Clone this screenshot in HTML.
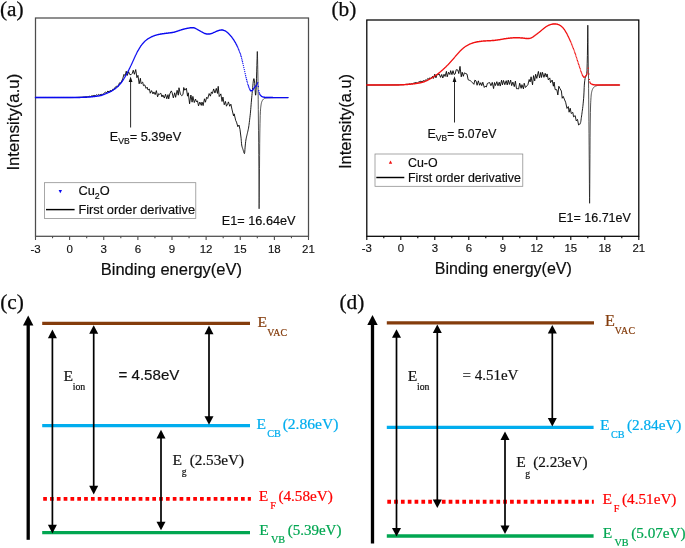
<!DOCTYPE html>
<html lang="en"><head><meta charset="utf-8"><title>UPS spectra and band diagrams</title>
<style>html,body{margin:0;padding:0;background:#fff}body{width:685px;height:548px;overflow:hidden}svg{display:block;will-change:transform;opacity:.999}text{white-space:pre;paint-order:stroke}</style></head><body>
<svg width="685" height="548" viewBox="0 0 685 548">
<rect width="685" height="548" fill="#fff"/>
<g font-family='"Liberation Serif", "Times New Roman", Times, serif' font-size="21.3" fill="#0a0a0a" stroke="#0a0a0a" stroke-width="0.25">
<text x="0" y="15.6">(a)</text>
<text x="331.4" y="15.9">(b)</text>
<text x="0.2" y="309.3">(c)</text>
<text x="339.4" y="309.3">(d)</text>
</g>
<g id="panel-a">
<rect x="35.5" y="18" width="273" height="218.3" fill="none" stroke="#4d4d4d" stroke-width="1.25"/>
<path d="M35.5 236.3v3.6M52.56 236.3v2M69.62 236.3v3.6M86.69 236.3v2M103.75 236.3v3.6M120.81 236.3v2M137.88 236.3v3.6M154.94 236.3v2M172 236.3v3.6M189.06 236.3v2M206.12 236.3v3.6M223.19 236.3v2M240.25 236.3v3.6M257.31 236.3v2M274.38 236.3v3.6M291.44 236.3v2M308.5 236.3v3.6" stroke="#4d4d4d" stroke-width="1.1" fill="none"/>
<g font-family='"Liberation Sans", Arial, Helvetica, sans-serif' font-size="11.5" fill="#111" stroke="#111" stroke-width="0.15" text-anchor="middle">
<text x="35.5" y="252.8">-3</text>
<text x="69.62" y="252.8">0</text>
<text x="103.75" y="252.8">3</text>
<text x="137.88" y="252.8">6</text>
<text x="172" y="252.8">9</text>
<text x="206.12" y="252.8">12</text>
<text x="240.25" y="252.8">15</text>
<text x="274.38" y="252.8">18</text>
<text x="308.5" y="252.8">21</text>
</g>
<polyline points="35.5,97.6 35.7,97.6 35.9,97.6 36.1,97.6 36.3,97.6 36.5,97.6 36.7,97.6 36.81,97.6 36.9,97.6 37.1,97.6 37.3,97.6 37.5,97.6 37.7,97.6 37.76,97.6 37.9,97.6 38.1,97.6 38.3,97.6 38.5,97.6 38.7,97.6 38.9,97.6 39.08,97.6 39.1,97.6 39.3,97.6 39.5,97.6 39.7,97.6 39.9,97.6 40.1,97.6 40.3,97.6 40.37,97.6 40.5,97.6 40.7,97.6 40.9,97.6 41.1,97.6 41.27,97.6 41.3,97.6 41.5,97.6 41.7,97.6 41.9,97.6 42.1,97.6 42.3,97.6 42.4,97.6 42.5,97.6 42.7,97.6 42.9,97.6 43.1,97.6 43.3,97.6 43.3,97.6 43.5,97.6 43.7,97.6 43.9,97.6 44.1,97.6 44.3,97.6 44.5,97.6 44.57,97.6 44.7,97.6 44.9,97.6 45.1,97.6 45.3,97.6 45.5,97.6 45.7,97.6 45.85,97.6 45.9,97.6 46.1,97.6 46.3,97.6 46.5,97.6 46.7,97.6 46.9,97.6 47.1,97.6 47.1,97.6 47.3,97.6 47.5,97.6 47.7,97.6 47.9,97.6 48.1,97.6 48.3,97.6 48.32,97.6 48.5,97.6 48.7,97.6 48.9,97.6 49.1,97.6 49.23,97.6 49.3,97.6 49.5,97.6 49.7,97.6 49.9,97.6 50.1,97.6 50.2,97.6 50.3,97.6 50.5,97.6 50.7,97.6 50.9,97.6 51.1,97.6 51.3,97.6 51.48,97.6 51.5,97.6 51.7,97.6 51.9,97.6 52.1,97.6 52.3,97.6 52.5,97.6 52.7,97.6 52.9,97.6 52.99,97.6 53.1,97.6 53.3,97.6 53.5,97.6 53.7,97.6 53.74,97.6 53.9,97.6 54.1,97.6 54.3,97.6 54.5,97.6 54.7,97.6 54.9,97.6 55.02,97.6 55.1,97.6 55.3,97.6 55.5,97.6 55.7,97.6 55.9,97.6 56.1,97.6 56.3,97.6 56.45,97.6 56.5,97.6 56.7,97.6 56.9,97.6 57.08,97.6 57.1,97.6 57.3,97.6 57.5,97.6 57.7,97.6 57.9,97.6 58.1,97.6 58.3,97.6 58.5,97.6 58.56,97.6 58.7,97.6 58.9,97.6 59.1,97.6 59.3,97.6 59.5,97.6 59.7,97.6 59.9,97.6 59.91,97.6 60.1,97.6 60.3,97.6 60.5,97.6 60.64,97.6 60.7,97.6 60.9,97.6 61.1,97.6 61.3,97.6 61.5,97.6 61.7,97.6 61.9,97.6 61.98,97.6 62.1,97.6 62.3,97.6 62.5,97.6 62.7,97.6 62.9,97.6 63.1,97.6 63.3,97.6 63.34,97.6 63.5,97.6 63.7,97.6 63.9,97.6 64.04,97.6 64.1,97.6 64.3,97.6 64.5,97.6 64.7,97.6 64.9,97.6 65.1,97.6 65.3,97.6 65.41,97.6 65.5,97.6 65.7,97.6 65.9,97.6 66.1,97.6 66.3,97.6 66.5,97.6 66.69,97.6 66.7,97.6 66.9,97.6 67.1,97.6 67.3,97.6 67.5,97.6 67.7,97.6 67.8,97.6 67.9,97.6 68.1,97.6 68.3,97.6 68.5,97.6 68.7,97.6 68.83,97.6 68.9,97.6 69.1,97.6 69.3,97.6 69.5,97.6 69.7,97.6 69.83,97.6 69.9,97.6 70.1,97.6 70.3,97.6 70.5,97.6 70.7,97.6 70.9,97.6 71.1,97.59 71.14,97.59 71.3,97.59 71.5,97.59 71.7,97.59 71.9,97.58 72.1,97.58 72.23,97.58 72.3,97.58 72.5,97.57 72.7,97.57 72.9,97.56 73.1,97.56 73.3,97.55 73.44,97.55 73.5,97.55 73.7,97.54 73.9,97.54 74.1,97.53 74.3,97.52 74.5,97.52 74.52,97.52 74.7,97.51 74.9,97.5 75.1,97.5 75.3,97.49 75.5,97.48 75.7,97.47 75.9,97.46 75.94,97.46 76.1,97.45 76.3,97.44 76.5,97.44 76.7,97.43 76.9,97.42 77.05,97.41 77.1,97.41 77.3,97.4 77.5,97.39 77.7,97.38 77.9,97.36 77.94,97.36 78.1,97.35 78.3,97.34 78.5,97.33 78.7,97.32 78.9,97.31 79.1,97.3 79.24,97.29 79.3,97.29 79.5,97.27 79.7,97.26 79.9,97.25 80.1,97.24 80.22,97.23 80.3,97.22 80.5,97.21 80.7,97.2 80.9,97.19 81.1,97.17 81.3,97.16 81.47,97.15 81.5,97.15 81.7,97.13 81.9,97.12 82.1,97.11 82.3,97.09 82.5,97.08 82.57,97.07 82.7,97.06 82.9,97.05 83.1,97.04 83.3,97.02 83.5,97.01 83.7,96.99 83.89,96.98 83.9,96.98 84.1,96.96 84.3,96.95 84.5,96.94 84.7,96.92 84.88,96.91 84.9,96.91 86.08,96.85 87.38,96.73 88.35,96.69 89.78,96.24 90.52,96.49 91.99,95.74 92.96,96 94.11,95.36 95.38,95.66 96.46,94.82 97.55,95.33 98.46,94.46 99.67,95.05 101.17,94.34 102.21,94.55 103.46,93.73 104.76,92.63 105.76,91.96 106.54,92.83 107.84,91.03 109.15,91.92 110.1,90.47 111.67,91.26 112.81,89.2 113.9,89.48 114.83,87.49 116.2,86.65 116.94,85.91 118.19,86.51 119.43,82.85 120.74,83.16 121.74,80.89 122.69,78.94 123.96,74.37 125.1,75.73 126.24,71.23 127.31,75.46 128.6,71.64 129.77,74.6 131.11,74.63 132.27,73.36 133.26,70.22 134.38,74.29 135.71,69.58 136.92,77.69 137.95,75.36 139.17,83.78 140.4,78.27 141.04,83.66 142.67,82.05 143.47,85.68 144.74,84.88 146.07,88.36 147.17,87.18 148,90.02 149.44,89.12 150.25,93.23 151.57,90.62 152.98,93.95 153.91,91.94 155.16,94.6 156.38,90.61 157.58,96.86 158.7,93.64 159.42,94.31 160.8,93.2 161.98,96.95 162.89,94.96 164.32,98.08 165.51,94.23 166.79,98.79 168,94.62 168.69,98.92 169.89,93.77 171.29,90.89 172.14,92.69 173.34,97.88 174.69,92.81 175.61,97.32 177.11,90.29 178.31,95.19 178.98,87.76 180.42,94.16 181.72,95.71 182.97,94.54 183.72,87.51 184.81,90.23 186.37,88.28 187.54,96.17 188.28,92.79 189.57,103.78 190.88,95 192.1,102.17 192.86,96.41 194.29,102.55 195.53,99.08 196.53,101.87 197.46,100.79 198.53,105.86 199.82,102.06 201.28,105.38 201.99,102.07 203.12,105.62 204.47,98.79 205.45,102.21 206.65,97.26 207.73,98.54 209.16,93.57 210.41,96.16 211.41,91.92 212.39,93.51 213.65,88.95 214.95,93.04 216.3,88.4 217.48,93.45 218.2,86.35 219.22,96.56 220.84,93.88 222.05,101.47 222.93,97.07 224.26,104.76 225.46,101.43 226.46,106.2 227.76,103.62 228.43,101.88 229.72,106.24 230.87,104.17 231.93,109.1 233.54,115.87 234.18,113.85 235.7,120.48 236.5,122.12 237.82,126.68 239,125.04 240.02,129.64 241.1,138.27 241.3,140.77 241.36,141.56 241.5,143.26 241.7,145 241.9,146.01 242.1,146.83 242.3,147.51 242.5,148.1 242.52,148.16 242.7,148.65 242.9,149.2 243.1,149.82 243.3,150.51 243.5,151.24 243.54,151.41 243.7,151.96 243.9,152.6 244.1,153.12 244.3,153.47 244.5,153.6 244.7,152.48 244.9,149.93 244.94,149.4 245.1,147.12 245.3,145.04 245.5,143.15 245.7,141.43 245.75,141 245.9,140 246.1,138.85 246.3,137.85 246.5,136.95 246.7,136.12 246.9,135.3 246.92,135.2 247.1,134.45 247.3,133.55 247.5,132.69 247.7,131.85 247.9,131.01 248.1,130.13 248.17,129.83 248.3,129.2 248.5,128.16 248.7,126.99 248.9,125.62 249.1,124.1 249.3,122.48 249.33,122.23 249.5,120.82 249.7,119.18 249.9,117.53 250.1,115.81 250.3,113.98 250.38,113.19 250.5,111.96 250.7,109.7 250.9,107.28 251.1,104.78 251.3,102.32 251.5,100 251.7,97.82 251.9,95.69 251.94,95.26 252.1,93.61 252.3,91.56 252.5,89.52 252.7,87.43 252.9,85.15 253.04,83.59 253.1,82.94 253.3,81.14 253.5,79.96 253.7,79.01 253.77,78.77 253.9,78.6 254.1,78.87 254.3,79.56 254.5,80.73 254.7,83.37 254.9,86.57 255.07,89.06 255.1,89.45 255.3,92.72 255.5,95.12 255.7,95.2 255.9,93.27 256.1,90.27 256.15,89.21 256.3,84.83 256.5,78.21 256.7,71.89 256.9,65.42 257.1,58.62 257.3,51.5" fill="none" stroke="#050505" stroke-width="0.9" stroke-linejoin="miter" stroke-miterlimit="4"/>
<polyline points="257.3,51.5 257.3,51.5 257.4,53.27 257.5,56.15 257.6,59.96 257.7,64.51 257.8,69.58 257.9,75 258,81.57 258.1,89.88 258.2,99.41 258.3,109.62 258.4,120 258.5,130.7 258.6,142.16 258.7,154.27 258.8,166.92 258.9,180 259,197.72 259.1,208.8 259.2,203.63 259.3,192.05 259.4,180 259.5,168.37 259.6,155.55 259.7,143.71 259.8,135 259.9,128.9 260,123.53 260.1,119.01 260.2,115.46 260.3,113 260.4,111.28 260.5,109.83 260.6,108.63 260.7,107.61 260.8,106.75 260.9,106 261,105.31 261.1,104.68 261.2,104.1 261.3,103.57 261.4,103.1 261.5,102.68 261.6,102.31 261.7,102 261.8,101.72 261.9,101.47 262,101.24 262.1,101.03 262.2,100.84 262.3,100.66 262.4,100.5 262.5,100.34 262.6,100.2 262.7,100.06 262.8,99.93 262.9,99.79 263,99.66 263.1,99.54 263.2,99.41 263.3,99.29 263.4,99.18 263.5,99.07 263.6,98.97 263.7,98.87 263.8,98.78 263.9,98.7 264,98.62 264.1,98.55 264.2,98.49 264.3,98.44 264.4,98.4 264.5,98.36 264.6,98.33 264.7,98.3 264.8,98.26 264.9,98.23 265,98.2 265.1,98.18 265.2,98.15 265.3,98.12 265.4,98.1 265.5,98.08 265.6,98.05 265.7,98.03 265.8,98.01 265.9,98 266,97.98 266.1,97.97 266.2,97.95 266.3,97.94 266.4,97.93 266.5,97.92 266.6,97.91 266.7,97.9 266.8,97.89 266.9,97.89 267,97.88 267.1,97.87 267.2,97.87 267.3,97.86 267.4,97.85 267.5,97.85 267.6,97.84 267.7,97.84 267.8,97.83 267.9,97.83 268,97.82 268.1,97.82 268.2,97.81 268.3,97.81 268.4,97.8 268.5,97.8 268.6,97.79 268.7,97.79 268.8,97.78 268.9,97.78 269,97.77 269.1,97.77 269.2,97.77 269.3,97.76 269.4,97.76 269.5,97.76 269.6,97.75 269.7,97.75 269.8,97.75 269.9,97.74 270,97.74 270.1,97.74 270.2,97.73 270.3,97.73 270.4,97.73 270.5,97.73 270.6,97.72 270.7,97.72 270.8,97.72 270.9,97.72 271,97.72 271.1,97.71 271.2,97.71 271.3,97.71 271.4,97.71 271.5,97.71 271.6,97.71 271.7,97.7 271.8,97.7 271.9,97.7 272,97.7 272.1,97.7 272.2,97.7 272.3,97.7 272.4,97.7 272.5,97.69 272.6,97.69 272.7,97.69 272.8,97.69 272.9,97.69 273,97.69 273.1,97.69 273.2,97.69 273.3,97.68 273.4,97.68 273.5,97.68 273.6,97.68 273.7,97.68 273.8,97.68 273.9,97.68 274,97.68 274.1,97.68 274.2,97.68 274.3,97.67 274.4,97.67 274.5,97.67 274.6,97.67 274.7,97.67 274.8,97.67 274.9,97.67 275,97.67 275.1,97.67 275.2,97.67 275.3,97.66 275.4,97.66 275.5,97.66 275.6,97.66 275.7,97.66 275.8,97.66 275.9,97.66 276,97.66 276.1,97.66 276.2,97.66 276.3,97.65 276.4,97.65 276.5,97.65 276.6,97.65 276.7,97.65 276.8,97.65 276.9,97.65 277,97.65 277.1,97.65 277.2,97.65 277.3,97.65 277.4,97.65 277.5,97.64 277.6,97.64 277.7,97.64 277.8,97.64 277.9,97.64 278,97.64 278.1,97.64 278.2,97.64 278.3,97.64 278.4,97.64 278.5,97.64 278.6,97.64 278.7,97.64 278.8,97.63 278.9,97.63 279,97.63 279.1,97.63 279.2,97.63 279.3,97.63 279.4,97.63 279.5,97.63 279.6,97.63 279.7,97.63 279.8,97.63 279.9,97.63 280,97.63 280.1,97.63 280.2,97.63 280.3,97.62 280.4,97.62 280.5,97.62 280.6,97.62 280.7,97.62 280.8,97.62 280.9,97.62 281,97.62 281.1,97.62 281.2,97.62 281.3,97.62 281.4,97.62 281.5,97.62 281.6,97.62 281.7,97.62 281.8,97.62 281.9,97.62 282,97.62 282.1,97.61 282.2,97.61 282.3,97.61 282.4,97.61 282.5,97.61 282.6,97.61 282.7,97.61 282.8,97.61 282.9,97.61 283,97.61 283.1,97.61 283.2,97.61 283.3,97.61 283.4,97.61 283.5,97.61 283.6,97.61 283.7,97.61 283.8,97.61 283.9,97.61 284,97.61 284.1,97.61 284.2,97.61 284.3,97.61 284.4,97.61 284.5,97.61 284.6,97.61 284.7,97.61 284.8,97.6 284.9,97.6 285,97.6 285.1,97.6 285.2,97.6 285.3,97.6 285.4,97.6 285.5,97.6 285.6,97.6 285.7,97.6 285.8,97.6 285.9,97.6 286,97.6 286.1,97.6 286.2,97.6 286.3,97.6 286.4,97.6 286.5,97.6 286.6,97.6 286.7,97.6 286.8,97.6 286.9,97.6 287,97.6 287.1,97.6 287.2,97.6 287.3,97.6 287.4,97.6 287.5,97.6 287.6,97.6 287.7,97.6 287.8,97.6 287.9,97.6 288,97.6 288.1,97.6 288.2,97.6 288.3,97.6" fill="none" stroke="#111" stroke-width="0.72" stroke-linejoin="round"/>
<path d="M35.5 97.5h0M35.95 97.5h0M36.4 97.5h0M36.85 97.5h0M37.3 97.5h0M37.75 97.5h0M38.2 97.5h0M38.65 97.5h0M39.1 97.5h0M39.55 97.5h0M40 97.5h0M40.45 97.5h0M40.9 97.5h0M41.35 97.5h0M41.8 97.5h0M42.25 97.5h0M42.7 97.5h0M43.15 97.5h0M43.6 97.5h0M44.05 97.5h0M44.5 97.5h0M44.95 97.5h0M45.4 97.5h0M45.85 97.5h0M46.3 97.5h0M46.75 97.5h0M47.2 97.5h0M47.65 97.5h0M48.1 97.5h0M48.55 97.5h0M49 97.5h0M49.45 97.5h0M49.9 97.5h0M50.35 97.5h0M50.8 97.5h0M51.25 97.5h0M51.7 97.5h0M52.15 97.5h0M52.6 97.5h0M53.05 97.5h0M53.5 97.5h0M53.95 97.5h0M54.4 97.5h0M54.85 97.5h0M55.3 97.5h0M55.75 97.5h0M56.2 97.5h0M56.65 97.5h0M57.1 97.5h0M57.55 97.5h0M58 97.5h0M58.45 97.5h0M58.9 97.5h0M59.35 97.5h0M59.8 97.5h0M60.25 97.5h0M60.7 97.5h0M61.15 97.5h0M61.6 97.5h0M62.05 97.5h0M62.5 97.5h0M62.95 97.5h0M63.4 97.5h0M63.85 97.5h0M64.3 97.5h0M64.75 97.49h0M65.2 97.49h0M65.65 97.49h0M66.1 97.49h0M66.55 97.49h0M67 97.49h0M67.45 97.49h0M67.9 97.48h0M68.35 97.48h0M68.8 97.48h0M69.25 97.48h0M69.7 97.48h0M70.15 97.47h0M70.6 97.47h0M71.05 97.47h0M71.5 97.47h0M71.95 97.46h0M72.4 97.46h0M72.85 97.46h0M73.3 97.46h0M73.75 97.45h0M74.2 97.45h0M74.65 97.45h0M75.1 97.44h0M75.55 97.44h0M76 97.44h0M76.45 97.43h0M76.9 97.43h0M77.35 97.42h0M77.8 97.42h0M78.25 97.42h0M78.7 97.41h0M79.15 97.41h0M79.6 97.4h0M80.05 97.4h0M80.5 97.39h0M80.95 97.39h0M81.4 97.38h0M81.85 97.37h0M82.3 97.35h0M82.75 97.34h0M83.2 97.33h0M83.65 97.31h0M84.1 97.29h0M84.55 97.27h0M85 97.25h0M85.45 97.23h0M85.9 97.21h0M86.35 97.19h0M86.8 97.16h0M87.25 97.14h0M87.7 97.12h0M88.15 97.09h0M88.6 97.06h0M89.05 97.03h0M89.5 97h0M89.95 96.96h0M90.4 96.92h0M90.85 96.87h0M91.3 96.83h0M91.75 96.78h0M92.2 96.73h0M92.65 96.67h0M93.1 96.62h0M93.55 96.57h0M94 96.51h0M94.45 96.46h0M94.9 96.4h0M95.35 96.34h0M95.8 96.29h0M96.25 96.23h0M96.7 96.18h0M97.15 96.12h0M97.6 96.06h0M98.05 96h0M98.5 95.93h0M98.95 95.87h0M99.4 95.79h0M99.85 95.71h0M100.3 95.62h0M100.75 95.52h0M101.2 95.4h0M101.65 95.27h0M102.1 95.12h0M102.55 94.96h0M103 94.79h0M103.45 94.61h0M103.9 94.43h0M104.35 94.24h0M104.8 94.05h0M105.25 93.86h0M105.7 93.68h0M106.15 93.5h0M106.6 93.32h0M107.05 93.14h0M107.5 92.96h0M107.95 92.77h0M108.4 92.58h0M108.85 92.38h0M109.3 92.18h0M109.75 91.97h0M110.2 91.75h0M110.65 91.52h0M111.1 91.28h0M111.55 91.03h0M112 90.77h0M112.45 90.5h0M112.9 90.21h0M113.35 89.92h0M113.8 89.62h0M114.25 89.32h0M114.7 89h0M115.15 88.67h0M115.6 88.34h0M116.05 87.99h0M116.5 87.62h0M116.95 87.24h0M117.4 86.85h0M117.85 86.44h0M118.3 86.01h0M118.75 85.56h0M119.2 85.09h0M119.65 84.59h0M120.1 84.07h0M120.55 83.54h0M121 82.98h0M121.45 82.4h0M121.9 81.79h0M122.35 81.16h0M122.8 80.5h0M123.25 79.82h0M123.7 79.11h0M124.15 78.36h0M124.6 77.6h0M125.05 76.82h0M125.5 76.02h0M125.95 75.21h0M126.4 74.4h0M126.85 73.58h0M127.3 72.75h0M127.75 71.91h0M128.2 71.05h0M128.65 70.18h0M129.1 69.3h0M129.55 68.41h0M130 67.5h0M130.45 66.57h0M130.9 65.62h0M131.35 64.64h0M131.8 63.65h0M132.25 62.65h0M132.7 61.64h0M133.15 60.64h0M133.6 59.65h0M134.05 58.67h0M134.5 57.71h0M134.95 56.76h0M135.4 55.81h0M135.85 54.85h0M136.3 53.91h0M136.75 52.98h0M137.2 52.09h0M137.65 51.23h0M138.1 50.42h0M138.55 49.65h0M139 48.89h0M139.45 48.15h0M139.9 47.44h0M140.35 46.75h0M140.8 46.09h0M141.25 45.46h0M141.7 44.86h0M142.15 44.29h0M142.6 43.73h0M143.05 43.2h0M143.5 42.69h0M143.95 42.2h0M144.4 41.73h0M144.85 41.29h0M145.3 40.87h0M145.75 40.47h0M146.2 40.1h0M146.65 39.74h0M147.1 39.39h0M147.55 39.06h0M148 38.75h0M148.45 38.46h0M148.9 38.18h0M149.35 37.91h0M149.8 37.66h0M150.25 37.43h0M150.7 37.2h0M151.15 36.99h0M151.6 36.78h0M152.05 36.59h0M152.5 36.4h0M152.95 36.22h0M153.4 36.04h0M153.85 35.87h0M154.3 35.7h0M154.75 35.55h0M155.2 35.39h0M155.65 35.25h0M156.1 35.11h0M156.55 34.99h0M157 34.87h0M157.45 34.75h0M157.9 34.64h0M158.35 34.54h0M158.8 34.44h0M159.25 34.35h0M159.7 34.26h0M160.15 34.17h0M160.6 34.09h0M161.05 34.01h0M161.5 33.94h0M161.95 33.87h0M162.4 33.8h0M162.85 33.73h0M163.3 33.67h0M163.75 33.61h0M164.2 33.55h0M164.65 33.49h0M165.1 33.44h0M165.55 33.39h0M166 33.34h0M166.45 33.29h0M166.9 33.24h0M167.35 33.18h0M167.8 33.13h0M168.25 33.07h0M168.7 33.01h0M169.15 32.95h0M169.6 32.89h0M170.05 32.84h0M170.5 32.78h0M170.95 32.72h0M171.4 32.65h0M171.85 32.58h0M172.3 32.51h0M172.75 32.44h0M173.2 32.36h0M173.65 32.27h0M174.1 32.18h0M174.55 32.07h0M175 31.94h0M175.45 31.79h0M175.9 31.64h0M176.35 31.48h0M176.8 31.32h0M177.25 31.15h0M177.7 31h0M178.15 30.85h0M178.6 30.71h0M179.05 30.56h0M179.5 30.41h0M179.95 30.27h0M180.4 30.12h0M180.85 29.98h0M181.3 29.84h0M181.75 29.7h0M182.2 29.57h0M182.65 29.44h0M183.1 29.32h0M183.55 29.2h0M184 29.08h0M184.45 28.97h0M184.9 28.85h0M185.35 28.75h0M185.8 28.64h0M186.25 28.55h0M186.7 28.46h0M187.15 28.37h0M187.6 28.28h0M188.05 28.19h0M188.5 28.1h0M188.95 28.02h0M189.4 27.94h0M189.85 27.88h0M190.3 27.83h0M190.75 27.8h0M191.2 27.8h0M191.65 27.8h0M192.1 27.8h0M192.55 27.8h0M193 27.8h0M193.45 27.8h0M193.9 27.83h0M194.35 27.94h0M194.8 28.09h0M195.25 28.28h0M195.7 28.47h0M196.15 28.66h0M196.6 28.88h0M197.05 29.13h0M197.5 29.4h0M197.95 29.68h0M198.4 29.96h0M198.85 30.23h0M199.3 30.5h0M199.75 30.77h0M200.2 31.05h0M200.65 31.33h0M201.1 31.6h0M201.55 31.86h0M202 32.1h0M202.45 32.34h0M202.9 32.58h0M203.35 32.81h0M203.8 33.03h0M204.25 33.23h0M204.7 33.4h0M205.15 33.54h0M205.6 33.68h0M206.05 33.81h0M206.5 33.93h0M206.95 34.02h0M207.4 34.08h0M207.85 34.1h0M208.3 34.09h0M208.75 34.05h0M209.2 34h0M209.65 33.94h0M210.1 33.87h0M210.55 33.79h0M211 33.68h0M211.45 33.54h0M211.9 33.36h0M212.35 33.16h0M212.8 32.96h0M213.25 32.76h0M213.7 32.57h0M214.15 32.37h0M214.6 32.16h0M215.05 31.94h0M215.5 31.73h0M215.95 31.53h0M216.4 31.34h0M216.85 31.16h0M217.3 30.99h0M217.75 30.81h0M218.2 30.65h0M218.65 30.51h0M219.1 30.38h0M219.55 30.29h0M220 30.21h0M220.45 30.14h0M220.9 30.08h0M221.35 30.03h0M221.8 30h0M222.25 30.01h0M222.7 30.07h0M223.15 30.17h0M223.6 30.3h0M224.05 30.44h0M224.5 30.6h0M224.95 30.79h0M225.4 31.03h0M225.85 31.31h0M226.3 31.62h0M226.75 31.96h0M227.2 32.3h0M227.65 32.66h0M228.1 33.06h0M228.55 33.48h0M229 33.93h0M229.45 34.4h0M229.9 34.89h0M230.35 35.39h0M230.8 35.92h0M231.25 36.47h0M231.7 37.04h0M232.15 37.64h0M232.6 38.25h0M233.05 38.89h0M233.5 39.55h0M233.95 40.24h0M234.4 40.97h0M234.85 41.73h0M235.3 42.52h0M235.75 43.34h0M236.2 44.18h0M236.65 45.04h0M237.1 45.94h0M237.55 46.87h0M238 47.85h0M249.7 89.11h0M250.15 90.04h0M250.6 90.66h0M251.05 90.8h0M251.5 90.75h0M251.95 90.66h0M252.4 90.49h0M252.85 89.95h0M253.3 89.17h0M253.75 88.41h0M254.2 87.83h0M254.65 87.29h0M255.1 86.78h0M255.55 86.26h0M256 85.77h0M256.45 85.28h0M256.9 84.63h0M259.65 93.9h0M260.1 94.72h0M260.55 95.36h0M261 95.84h0M261.45 96.18h0M261.9 96.46h0M262.35 96.7h0M262.8 96.88h0M263.25 97.01h0M263.7 97.11h0M264.15 97.2h0M264.6 97.29h0M265.05 97.36h0M265.5 97.41h0M265.95 97.46h0M266.4 97.49h0M266.85 97.5h0M267.3 97.51h0M267.75 97.52h0M268.2 97.53h0M268.65 97.54h0M269.1 97.55h0M269.55 97.56h0M270 97.56h0M270.45 97.57h0M270.9 97.58h0M271.35 97.58h0M271.8 97.59h0M272.25 97.59h0M272.7 97.59h0M273.15 97.6h0M273.6 97.6h0M274.05 97.6h0M274.5 97.6h0M274.95 97.6h0M275.4 97.6h0M275.85 97.6h0M276.3 97.6h0M276.75 97.6h0M277.2 97.6h0M277.65 97.6h0M278.1 97.6h0M278.55 97.6h0M279 97.6h0M279.45 97.6h0M279.9 97.6h0M280.35 97.6h0M280.8 97.6h0M281.25 97.6h0M281.7 97.6h0M282.15 97.6h0M282.6 97.6h0M283.05 97.6h0M283.5 97.6h0M283.95 97.6h0M284.4 97.6h0M284.85 97.6h0M285.3 97.6h0M285.75 97.6h0M286.2 97.6h0M286.65 97.6h0M287.1 97.6h0M287.55 97.6h0M288 97.6h0" stroke="#0a0af0" stroke-width="1.45" stroke-linecap="round" fill="none"/>
<path d="M238.45 48.88h0M238.9 49.97h0M239.35 51.11h0M239.8 52.32h0M240.25 53.62h0M240.7 55h0M241.15 56.52h0M241.6 58.18h0M242.05 59.95h0M242.5 61.77h0M242.95 63.62h0M243.4 65.57h0M243.85 67.58h0M244.3 69.61h0M244.75 71.62h0M245.2 73.68h0M245.65 75.72h0M246.1 77.68h0M246.55 79.49h0M247 81.21h0M247.45 82.83h0M247.9 84.32h0M248.35 85.74h0M248.8 87.04h0M249.25 88.11h0M257.35 83.67h0M257.8 82.32h0M258.3 86.5h0M258.75 90.77h0M259.2 92.7h0" stroke="#0a0af0" stroke-width="1.38" stroke-linecap="round" fill="none"/>
</g>
<g id="panel-b">
<rect x="366.8" y="20" width="272" height="216.3" fill="none" stroke="#000" stroke-width="1.25"/>
<path d="M366.8 236.3v3.6M383.8 236.3v2M400.8 236.3v3.6M417.8 236.3v2M434.8 236.3v3.6M451.8 236.3v2M468.8 236.3v3.6M485.8 236.3v2M502.8 236.3v3.6M519.8 236.3v2M536.8 236.3v3.6M553.8 236.3v2M570.8 236.3v3.6M587.8 236.3v2M604.8 236.3v3.6M621.8 236.3v2M638.8 236.3v3.6" stroke="#000" stroke-width="1.1" fill="none"/>
<g font-family='"Liberation Sans", Arial, Helvetica, sans-serif' font-size="11.4" fill="#111" stroke="#111" stroke-width="0.15" text-anchor="middle">
<text x="366.8" y="252">-3</text>
<text x="400.8" y="252">0</text>
<text x="434.8" y="252">3</text>
<text x="468.8" y="252">6</text>
<text x="502.8" y="252">9</text>
<text x="536.8" y="252">12</text>
<text x="570.8" y="252">15</text>
<text x="604.8" y="252">18</text>
<text x="638.8" y="252">21</text>
</g>
<polyline points="366.8,85.1 367,85.1 367.2,85.1 367.4,85.1 367.6,85.1 367.67,85.1 367.8,85.1 368,85.1 368.2,85.1 368.4,85.1 368.6,85.1 368.8,85.1 369,85.1 369.08,85.1 369.2,85.1 369.4,85.1 369.6,85.1 369.8,85.1 370,85.1 370.2,85.1 370.38,85.1 370.4,85.1 370.6,85.1 370.8,85.1 371,85.1 371.2,85.1 371.35,85.09 371.4,85.09 371.6,85.09 371.8,85.09 372,85.09 372.2,85.09 372.4,85.09 372.54,85.09 372.6,85.09 372.8,85.09 373,85.09 373.2,85.09 373.4,85.09 373.42,85.09 373.6,85.09 373.8,85.09 374,85.09 374.2,85.09 374.4,85.09 374.6,85.08 374.8,85.08 374.84,85.08 375,85.08 375.2,85.08 375.4,85.08 375.6,85.08 375.8,85.08 376,85.08 376.2,85.08 376.25,85.08 376.4,85.08 376.6,85.08 376.8,85.07 377,85.07 377.2,85.07 377.35,85.07 377.4,85.07 377.6,85.07 377.8,85.07 378,85.07 378.2,85.07 378.4,85.07 378.43,85.07 378.6,85.06 378.8,85.06 379,85.06 379.2,85.06 379.23,85.06 379.4,85.06 379.6,85.06 379.8,85.06 380,85.06 380.2,85.05 380.4,85.05 380.6,85.05 380.8,85.05 380.83,85.05 381,85.05 381.2,85.05 381.4,85.05 381.6,85.04 381.8,85.04 381.96,85.04 382,85.04 382.2,85.04 382.4,85.04 382.6,85.04 382.71,85.03 382.8,85.03 383,85.03 383.2,85.03 383.4,85.03 383.6,85.03 383.8,85.03 384,85.02 384.13,85.02 384.2,85.02 384.4,85.02 384.6,85.02 384.8,85.02 384.92,85.01 385,85.01 385.2,85.01 385.4,85.01 385.6,85.01 385.8,85.01 386,85 386.13,85 386.2,85 386.4,85 386.6,85 386.8,85 387,84.99 387.2,84.99 387.39,84.99 387.4,84.99 387.6,84.99 387.8,84.98 388,84.98 388.2,84.98 388.4,84.98 388.45,84.98 388.6,84.97 388.8,84.97 389,84.97 389.2,84.97 389.4,84.97 389.6,84.96 389.8,84.96 389.95,84.96 390,84.96 390.2,84.96 390.4,84.95 390.6,84.95 390.8,84.95 391,84.94 391.13,84.94 391.2,84.94 391.4,84.94 391.6,84.94 391.8,84.93 392,84.93 392.01,84.93 392.2,84.93 392.4,84.93 392.6,84.92 392.8,84.92 393,84.92 393.15,84.91 393.2,84.91 393.4,84.91 393.6,84.91 393.8,84.91 394,84.9 394.18,84.9 394.2,84.9 394.4,84.9 394.6,84.89 394.8,84.89 395,84.89 395.2,84.88 395.31,84.88 395.4,84.88 395.6,84.88 395.8,84.87 396,84.87 396.2,84.87 396.4,84.86 396.6,84.86 396.8,84.86 396.82,84.86 397,84.85 397.2,84.85 397.4,84.85 397.6,84.84 397.8,84.84 397.91,84.84 398,84.84 398.2,84.83 398.4,84.83 398.6,84.83 398.74,84.82 398.8,84.82 399,84.82 399.2,84.81 399.4,84.81 399.6,84.81 399.8,84.8 400,84.8 400.14,84.8 400.2,84.8 400.4,84.79 400.6,84.79 400.8,84.78 401,84.77 401.2,84.76 401.24,84.76 401.4,84.76 401.6,84.75 401.8,84.74 402,84.73 402.2,84.72 402.4,84.71 402.6,84.69 402.65,84.69 402.8,84.68 403,84.67 403.2,84.66 403.4,84.64 403.6,84.63 403.73,84.62 403.8,84.61 404,84.6 404.2,84.58 404.4,84.57 404.6,84.55 404.8,84.53 404.81,84.53 405,84.52 405.93,84.45 407.31,84.25 408.48,84.25 409.26,83.9 410.35,84.09 411.82,83.64 412.55,83.81 413.87,83.04 414.85,82.85 416.15,82.51 417.15,83.21 418.43,82.17 419.87,81.47 421.08,81.14 422.17,82.06 423.19,80.56 424.37,81.31 425.37,79.86 426.41,80.46 427.71,78.46 429.03,79.35 429.8,77.68 430.92,78.61 432.51,76.36 433.38,78.44 434.77,74.18 435.93,77.82 437.2,74.34 438.04,74.67 439.17,73.97 440.58,77.37 441.7,74.48 442.79,78.03 444.03,74.25 445.08,76.46 446.41,71.38 447.2,76.82 448.59,72.24 449.86,74.51 450.65,70.65 451.96,74.67 452.97,70.66 454.18,74.55 455.11,73.99 456.22,69.69 457.8,69.97 458.77,73.56 460.02,66.39 461.24,76.83 462.2,72.21 463.32,76.31 464.36,72.87 465.87,73.6 467.04,74.17 468.13,79.73 469.37,80.29 470.39,80.69 471.56,81.71 472.42,82.58 473.9,84.32 474.8,80.21 476.01,80.84 477.1,85.26 478.39,80.84 479.59,85.24 480.69,82.7 481.7,85.65 482.79,82.2 484.3,87.45 485.14,86.23 486.36,87.01 487.32,83.51 488.59,82.87 489.61,82.53 490.91,85.73 492.27,82.36 493.57,88.57 494.52,82.49 495.47,85.54 496.84,81.68 497.97,85.79 499.24,82.17 500.22,86.07 501.59,80.17 502.45,84.83 503.53,80.45 504.81,84.73 506.19,80.69 507.23,84.94 508.25,80.09 509.4,84.43 510.64,80.09 511.67,85.63 512.88,82.05 514.27,86.65 515.4,81.13 516.5,88.73 517.24,88.6 518.63,88.96 519.67,83.19 521.14,88.35 521.94,84.66 523.45,88.9 524.2,83.24 525.45,87.47 526.91,85.81 527.85,84.85 529.2,79.49 530.12,81.94 531.09,76.81 532.52,84.82 533.56,75.6 534.7,80.9 535.64,74.26 536.8,78.38 538.4,71.41 539.56,77.91 540.72,72.43 541.52,77.48 542.49,72.27 543.93,77.35 545.19,73.3 546.29,76.9 547.09,73.95 548.35,79.92 549.77,77.92 550.54,82.61 552.15,80.04 553.38,86.19 554.1,82.04 555.14,89.59 556.83,89.72 557.85,94.96 558.82,86.28 559.99,88.54 561.39,91.04 562.22,98.25 563.19,96.4 564.67,99.94 565.64,102.22 567,108.44 568.31,106.59 569.12,112.21 570.2,108.23 571.24,113.5 572.84,112.39 573.56,116.82 575.21,115.66 576.22,120.85 577.49,119.4 578.58,125.01 579.37,124.25 580,124.29 580.2,123.82 580.4,123.21 580.51,122.82 580.6,122.5 580.8,121.5 581,120.16 581.2,118.7 581.4,117.32 581.6,115.92 581.8,114.47 582,113 582.12,112.15 582.2,111.53 582.4,110.07 582.6,108.54 582.8,106.89 582.88,106.18 583,105.08 583.2,103.16 583.4,101.06 583.6,98.71 583.8,96 584,92.09 584.2,87.46 584.32,85.17 584.4,84 584.6,81.96 584.8,80.28 585,78.97 585.11,78.39 585.2,78 585.4,77.31 585.6,76.79 585.8,76.33 586,75.87 586.2,75.34 586.33,75.05 586.4,74.91 586.6,74.38 586.8,73.5 587,70.21 587.2,63.8 587.4,55.35 587.6,42.13 587.7,34.03 587.8,25.2" fill="none" stroke="#050505" stroke-width="0.9" stroke-linejoin="miter" stroke-miterlimit="4"/>
<polyline points="587.8,25.2 587.8,25.2 587.9,30.99 588,37.43 588.1,44.45 588.2,52 588.3,60 588.4,68.71 588.5,78.27 588.6,88.49 588.7,99.13 588.8,110 588.9,121.38 589,133.46 589.1,145.84 589.2,158.15 589.3,170 589.4,183.74 589.5,197.22 589.6,203.3 589.7,197.5 589.8,184.3 589.9,170 590,154.37 590.1,137.25 590.2,125 590.3,118 590.4,112.35 590.5,108.02 590.6,105 590.7,102.75 590.8,100.76 590.9,99.01 591,97.5 591.1,96.2 591.2,95.11 591.3,94.21 591.4,93.5 591.5,92.9 591.6,92.37 591.7,91.89 591.8,91.46 591.9,91.07 592,90.72 592.1,90.4 592.2,90.11 592.3,89.85 592.4,89.6 592.5,89.37 592.6,89.14 592.7,88.93 592.8,88.73 592.9,88.54 593,88.36 593.1,88.19 593.2,88.03 593.3,87.88 593.4,87.75 593.5,87.62 593.6,87.5 593.7,87.4 593.8,87.3 593.9,87.21 594,87.12 594.1,87.03 594.2,86.94 594.3,86.86 594.4,86.78 594.5,86.71 594.6,86.63 594.7,86.57 594.8,86.5 594.9,86.44 595,86.37 595.1,86.32 595.2,86.26 595.3,86.21 595.4,86.16 595.5,86.12 595.6,86.08 595.7,86.04 595.8,86 595.9,85.97 596,85.93 596.1,85.9 596.2,85.87 596.3,85.83 596.4,85.8 596.5,85.77 596.6,85.74 596.7,85.71 596.8,85.69 596.9,85.66 597,85.63 597.1,85.61 597.2,85.59 597.3,85.56 597.4,85.54 597.5,85.52 597.6,85.5 597.7,85.48 597.8,85.47 597.9,85.45 598,85.44 598.1,85.43 598.2,85.42 598.3,85.41 598.4,85.4 598.5,85.39 598.6,85.39 598.7,85.38 598.8,85.37 598.9,85.37 599,85.36 599.1,85.36 599.2,85.35 599.3,85.34 599.4,85.34 599.5,85.33 599.6,85.33 599.7,85.32 599.8,85.32 599.9,85.31 600,85.31 600.1,85.3 600.2,85.3 600.3,85.3 600.4,85.29 600.5,85.29 600.6,85.28 600.7,85.28 600.8,85.28 600.9,85.27 601,85.27 601.1,85.26 601.2,85.26 601.3,85.26 601.4,85.25 601.5,85.25 601.6,85.25 601.7,85.25 601.8,85.24 601.9,85.24 602,85.24 602.1,85.23 602.2,85.23 602.3,85.23 602.4,85.23 602.5,85.23 602.6,85.22 602.7,85.22 602.8,85.22 602.9,85.22 603,85.22 603.1,85.21 603.2,85.21 603.3,85.21 603.4,85.21 603.5,85.21 603.6,85.21 603.7,85.2 603.8,85.2 603.9,85.2 604,85.2 604.1,85.2 604.2,85.2 604.3,85.2 604.4,85.2 604.5,85.19 604.6,85.19 604.7,85.19 604.8,85.19 604.9,85.19 605,85.19 605.1,85.19 605.2,85.19 605.3,85.18 605.4,85.18 605.5,85.18 605.6,85.18 605.7,85.18 605.8,85.18 605.9,85.18 606,85.18 606.1,85.18 606.2,85.17 606.3,85.17 606.4,85.17 606.5,85.17 606.6,85.17 606.7,85.17 606.8,85.17 606.9,85.17 607,85.17 607.1,85.17 607.2,85.16 607.3,85.16 607.4,85.16 607.5,85.16 607.6,85.16 607.7,85.16 607.8,85.16 607.9,85.16 608,85.16 608.1,85.16 608.2,85.15 608.3,85.15 608.4,85.15 608.5,85.15 608.6,85.15 608.7,85.15 608.8,85.15 608.9,85.15 609,85.15 609.1,85.15 609.2,85.15 609.3,85.14 609.4,85.14 609.5,85.14 609.6,85.14 609.7,85.14 609.8,85.14 609.9,85.14 610,85.14 610.1,85.14 610.2,85.14 610.3,85.14 610.4,85.14 610.5,85.14 610.6,85.13 610.7,85.13 610.8,85.13 610.9,85.13 611,85.13 611.1,85.13 611.2,85.13 611.3,85.13 611.4,85.13 611.5,85.13 611.6,85.13 611.7,85.13 611.8,85.13 611.9,85.13 612,85.12 612.1,85.12 612.2,85.12 612.3,85.12 612.4,85.12 612.5,85.12 612.6,85.12 612.7,85.12 612.8,85.12 612.9,85.12 613,85.12 613.1,85.12 613.2,85.12 613.3,85.12 613.4,85.12 613.5,85.12 613.6,85.12 613.7,85.11 613.8,85.11 613.9,85.11 614,85.11 614.1,85.11 614.2,85.11 614.3,85.11 614.4,85.11 614.5,85.11 614.6,85.11 614.7,85.11 614.8,85.11 614.9,85.11 615,85.11 615.1,85.11 615.2,85.11 615.3,85.11 615.4,85.11 615.5,85.11 615.6,85.11 615.7,85.11 615.8,85.11 615.9,85.11 616,85.11 616.1,85.11 616.2,85.1 616.3,85.1 616.4,85.1 616.5,85.1 616.6,85.1 616.7,85.1 616.8,85.1 616.9,85.1 617,85.1 617.1,85.1 617.2,85.1 617.3,85.1 617.4,85.1 617.5,85.1 617.6,85.1 617.7,85.1 617.8,85.1 617.9,85.1 618,85.1 618.1,85.1 618.2,85.1 618.3,85.1 618.4,85.1 618.5,85.1 618.6,85.1 618.7,85.1 618.8,85.1 618.9,85.1 619,85.1 619.1,85.1 619.2,85.1 619.3,85.1 619.4,85.1 619.5,85.1" fill="none" stroke="#111" stroke-width="0.72" stroke-linejoin="round"/>
<path d="M366.8 85h0M367.25 85h0M367.7 85h0M368.15 85h0M368.6 85h0M369.05 85h0M369.5 85h0M369.95 85h0M370.4 85h0M370.85 85h0M371.3 85h0M371.75 85h0M372.2 85h0M372.65 85h0M373.1 85h0M373.55 85h0M374 85h0M374.45 85h0M374.9 85h0M375.35 85h0M375.8 85h0M376.25 85h0M376.7 85h0M377.15 85h0M377.6 85h0M378.05 85h0M378.5 85h0M378.95 85h0M379.4 85h0M379.85 85h0M380.3 85h0M380.75 85h0M381.2 85h0M381.65 85h0M382.1 85h0M382.55 85h0M383 85h0M383.45 85h0M383.9 85h0M384.35 85h0M384.8 85h0M385.25 85h0M385.7 85h0M386.15 85h0M386.6 85h0M387.05 85h0M387.5 85h0M387.95 85h0M388.4 85h0M388.85 85h0M389.3 85h0M389.75 85h0M390.2 85h0M390.65 85h0M391.1 85h0M391.55 85h0M392 85h0M392.45 85h0M392.9 85h0M393.35 85h0M393.8 85h0M394.25 85h0M394.7 85h0M395.15 85h0M395.6 85h0M396.05 84.99h0M396.5 84.99h0M396.95 84.98h0M397.4 84.97h0M397.85 84.95h0M398.3 84.94h0M398.75 84.92h0M399.2 84.91h0M399.65 84.89h0M400.1 84.87h0M400.55 84.84h0M401 84.82h0M401.45 84.8h0M401.9 84.77h0M402.35 84.75h0M402.8 84.72h0M403.25 84.7h0M403.7 84.67h0M404.15 84.65h0M404.6 84.62h0M405.05 84.6h0M405.5 84.57h0M405.95 84.54h0M406.4 84.51h0M406.85 84.48h0M407.3 84.45h0M407.75 84.41h0M408.2 84.37h0M408.65 84.33h0M409.1 84.29h0M409.55 84.25h0M410 84.21h0M410.45 84.16h0M410.9 84.12h0M411.35 84.07h0M411.8 84.02h0M412.25 83.97h0M412.7 83.92h0M413.15 83.87h0M413.6 83.82h0M414.05 83.77h0M414.5 83.71h0M414.95 83.66h0M415.4 83.6h0M415.85 83.53h0M416.3 83.46h0M416.75 83.39h0M417.2 83.32h0M417.65 83.24h0M418.1 83.16h0M418.55 83.08h0M419 83h0M419.45 82.92h0M419.9 82.83h0M420.35 82.74h0M420.8 82.65h0M421.25 82.55h0M421.7 82.45h0M422.15 82.34h0M422.6 82.22h0M423.05 82.1h0M423.5 81.97h0M423.95 81.82h0M424.4 81.66h0M424.85 81.48h0M425.3 81.29h0M425.75 81.08h0M426.2 80.87h0M426.65 80.66h0M427.1 80.44h0M427.55 80.22h0M428 80h0M428.45 79.78h0M428.9 79.56h0M429.35 79.33h0M429.8 79.09h0M430.25 78.85h0M430.7 78.6h0M431.15 78.35h0M431.6 78.09h0M432.05 77.83h0M432.5 77.56h0M432.95 77.28h0M433.4 76.99h0M433.85 76.69h0M434.3 76.39h0M434.75 76.08h0M435.2 75.77h0M435.65 75.45h0M436.1 75.13h0M436.55 74.8h0M437 74.47h0M437.45 74.13h0M437.9 73.79h0M438.35 73.44h0M438.8 73.08h0M439.25 72.72h0M439.7 72.36h0M440.15 71.98h0M440.6 71.6h0M441.05 71.22h0M441.5 70.83h0M441.95 70.44h0M442.4 70.04h0M442.85 69.64h0M443.3 69.23h0M443.75 68.82h0M444.2 68.4h0M444.65 67.98h0M445.1 67.56h0M445.55 67.13h0M446 66.69h0M446.45 66.25h0M446.9 65.8h0M447.35 65.35h0M447.8 64.88h0M448.25 64.42h0M448.7 63.94h0M449.15 63.46h0M449.6 62.98h0M450.05 62.49h0M450.5 62h0M450.95 61.5h0M451.4 60.99h0M451.85 60.48h0M452.3 59.96h0M452.75 59.44h0M453.2 58.92h0M453.65 58.4h0M454.1 57.89h0M454.55 57.37h0M455 56.86h0M455.45 56.34h0M455.9 55.83h0M456.35 55.32h0M456.8 54.81h0M457.25 54.3h0M457.7 53.8h0M458.15 53.3h0M458.6 52.79h0M459.05 52.29h0M459.5 51.78h0M459.95 51.29h0M460.4 50.81h0M460.85 50.34h0M461.3 49.9h0M461.75 49.47h0M462.2 49.06h0M462.65 48.65h0M463.1 48.26h0M463.55 47.89h0M464 47.53h0M464.45 47.19h0M464.9 46.86h0M465.35 46.55h0M465.8 46.25h0M466.25 45.97h0M466.7 45.69h0M467.15 45.43h0M467.6 45.18h0M468.05 44.93h0M468.5 44.7h0M468.95 44.48h0M469.4 44.27h0M469.85 44.06h0M470.3 43.87h0M470.75 43.69h0M471.2 43.52h0M471.65 43.35h0M472.1 43.19h0M472.55 43.04h0M473 42.9h0M473.45 42.77h0M473.9 42.64h0M474.35 42.51h0M474.8 42.39h0M475.25 42.28h0M475.7 42.17h0M476.15 42.07h0M476.6 41.98h0M477.05 41.9h0M477.5 41.82h0M477.95 41.74h0M478.4 41.67h0M478.85 41.6h0M479.3 41.53h0M479.75 41.47h0M480.2 41.41h0M480.65 41.36h0M481.1 41.3h0M481.55 41.24h0M482 41.19h0M482.45 41.14h0M482.9 41.1h0M483.35 41.05h0M483.8 41.02h0M484.25 40.98h0M484.7 40.95h0M485.15 40.93h0M485.6 40.9h0M486.05 40.88h0M486.5 40.86h0M486.95 40.83h0M487.4 40.81h0M487.85 40.79h0M488.3 40.76h0M488.75 40.74h0M489.2 40.72h0M489.65 40.7h0M490.1 40.67h0M490.55 40.65h0M491 40.63h0M491.45 40.6h0M491.9 40.58h0M492.35 40.55h0M492.8 40.51h0M493.25 40.48h0M493.7 40.44h0M494.15 40.4h0M494.6 40.35h0M495.05 40.3h0M495.5 40.24h0M495.95 40.19h0M496.4 40.13h0M496.85 40.07h0M497.3 40h0M497.75 39.94h0M498.2 39.87h0M498.65 39.8h0M499.1 39.74h0M499.55 39.67h0M500 39.6h0M500.45 39.53h0M500.9 39.45h0M501.35 39.37h0M501.8 39.29h0M502.25 39.21h0M502.7 39.13h0M503.15 39.04h0M503.6 38.96h0M504.05 38.89h0M504.5 38.82h0M504.95 38.75h0M505.4 38.68h0M505.85 38.61h0M506.3 38.55h0M506.75 38.48h0M507.2 38.42h0M507.65 38.36h0M508.1 38.3h0M508.55 38.25h0M509 38.2h0M509.45 38.15h0M509.9 38.11h0M510.35 38.07h0M510.8 38.03h0M511.25 37.99h0M511.7 37.95h0M512.15 37.91h0M512.6 37.87h0M513.05 37.84h0M513.5 37.81h0M513.95 37.78h0M514.4 37.75h0M514.85 37.73h0M515.3 37.72h0M515.75 37.7h0M516.2 37.7h0M516.65 37.7h0M517.1 37.71h0M517.55 37.72h0M518 37.74h0M518.45 37.76h0M518.9 37.79h0M519.35 37.81h0M519.8 37.84h0M520.25 37.87h0M520.7 37.91h0M521.15 37.94h0M521.6 37.97h0M522.05 38h0M522.5 38.04h0M522.95 38.09h0M523.4 38.14h0M523.85 38.2h0M524.3 38.26h0M524.75 38.32h0M525.2 38.38h0M525.65 38.43h0M526.1 38.49h0M526.55 38.53h0M527 38.57h0M527.45 38.59h0M527.9 38.6h0M528.35 38.59h0M528.8 38.53h0M529.25 38.45h0M529.7 38.35h0M530.15 38.24h0M530.6 38.11h0M531.05 37.94h0M531.5 37.72h0M531.95 37.49h0M532.4 37.24h0M532.85 36.97h0M533.3 36.67h0M533.75 36.34h0M534.2 36h0M534.65 35.65h0M535.1 35.3h0M535.55 34.96h0M536 34.63h0M536.45 34.3h0M536.9 33.97h0M537.35 33.63h0M537.8 33.29h0M538.25 32.95h0M538.7 32.61h0M539.15 32.26h0M539.6 31.9h0M540.05 31.53h0M540.5 31.16h0M540.95 30.77h0M541.4 30.38h0M541.85 30h0M542.3 29.61h0M542.75 29.24h0M543.2 28.88h0M543.65 28.53h0M544.1 28.17h0M544.55 27.82h0M545 27.47h0M545.45 27.14h0M545.9 26.82h0M546.35 26.53h0M546.8 26.26h0M547.25 26.01h0M547.7 25.77h0M548.15 25.54h0M548.6 25.32h0M549.05 25.12h0M549.5 24.93h0M549.95 24.77h0M550.4 24.63h0M550.85 24.51h0M551.3 24.39h0M551.75 24.27h0M552.2 24.16h0M552.65 24.07h0M553.1 23.99h0M553.55 23.93h0M554 23.9h0M554.45 23.9h0M554.9 23.92h0M555.35 23.95h0M555.8 24h0M556.25 24.06h0M556.7 24.12h0M557.15 24.19h0M557.6 24.28h0M558.05 24.42h0M558.5 24.6h0M558.95 24.8h0M559.4 25.02h0M559.85 25.26h0M560.3 25.51h0M560.75 25.81h0M561.2 26.14h0M561.65 26.51h0M562.1 26.92h0M562.55 27.35h0M563 27.84h0M563.45 28.38h0M563.9 28.97h0M564.35 29.59h0M564.8 30.23h0M565.25 30.92h0M565.7 31.65h0M566.15 32.42h0M566.6 33.22h0M567.05 34.06h0M567.5 34.95h0M567.95 35.89h0M568.4 36.84h0M568.85 37.81h0M569.3 38.78h0M569.75 39.76h0M570.2 40.77h0M570.65 41.79h0M582.35 74.92h0M582.8 75.77h0M583.25 76.59h0M583.7 77.13h0M584.15 77.17h0M584.6 76.98h0M585.05 76.7h0M585.5 76.36h0M585.95 75.86h0M586.4 75.2h0M588.2 68.18h0M590.25 82.96h0M590.7 83.51h0M591.15 83.86h0M591.6 84.12h0M592.05 84.32h0M592.5 84.47h0M592.95 84.59h0M593.4 84.69h0M593.85 84.77h0M594.3 84.84h0M594.75 84.88h0M595.2 84.91h0M595.65 84.93h0M596.1 84.95h0M596.55 84.97h0M597 84.98h0M597.45 84.99h0M597.9 85h0M598.35 85h0M598.8 85h0M599.25 85h0M599.7 85h0M600.15 85h0M600.6 85h0M601.05 85h0M601.5 85h0M601.95 85h0M602.4 85h0M602.85 85h0M603.3 85h0M603.75 85h0M604.2 85h0M604.65 85h0M605.1 85h0M605.55 85h0M606 85h0M606.45 85h0M606.9 85h0M607.35 85h0M607.8 85h0M608.25 85h0M608.7 85h0M609.15 85h0M609.6 85h0M610.05 85h0M610.5 85h0M610.95 85h0M611.4 85h0M611.85 85h0M612.3 85h0M612.75 85h0M613.2 85h0M613.65 85h0M614.1 85h0M614.55 85h0M615 85h0M615.45 85h0M615.9 85h0M616.35 85h0M616.8 85h0M617.25 85h0M617.7 85h0M618.15 85h0M618.6 85h0M619.05 85h0M619.5 85h0" stroke="#f01010" stroke-width="1.45" stroke-linecap="round" fill="none"/>
<path d="M571.1 42.83h0M571.55 43.9h0M572 44.98h0M572.45 46.08h0M572.9 47.22h0M573.35 48.4h0M573.8 49.61h0M574.25 50.87h0M574.7 52.16h0M575.15 53.47h0M575.6 54.79h0M576.05 56.17h0M576.5 57.57h0M576.95 58.98h0M577.4 60.38h0M577.85 61.77h0M578.3 63.14h0M578.75 64.51h0M579.2 65.88h0M579.65 67.26h0M580.1 68.68h0M580.55 70.1h0M581 71.44h0M581.45 72.68h0M581.9 73.86h0M586.85 74.23h0M587.3 72.86h0M587.75 70.92h0M588.9 74h0M589.35 79.4h0M589.8 82h0" stroke="#f01010" stroke-width="1.38" stroke-linecap="round" fill="none"/>
</g>
<g font-family='"Liberation Sans", Arial, Helvetica, sans-serif' fill="#0d0d0d" stroke="#0d0d0d" stroke-width="0.2">
<text x="171.4" y="274.8" font-size="16.5" text-anchor="middle">Binding energy(eV)</text>
<text x="503.3" y="273.8" font-size="16" text-anchor="middle">Binding energy(eV)</text>
<text transform="translate(19 122.2) rotate(-90)" font-size="16.75" text-anchor="middle">Intensity(a.u)</text>
<text transform="translate(350.6 121.5) rotate(-90)" font-size="16.45" text-anchor="middle">Intensity(a.u)</text>
</g>
<rect x="44.5" y="182.7" width="151.3" height="35.7" fill="#fff" stroke="#8a8a8a" stroke-width="0.75"/>
<path d="M58.6 190l3.4 0l-1.7 3.3z" fill="#0a0af0"/>
<path d="M46 209.6H74.6" stroke="#000" stroke-width="1.45"/>
<g font-family='"Liberation Sans", Arial, Helvetica, sans-serif' font-size="12.8" fill="#0d0d0d" stroke="#0d0d0d" stroke-width="0.18">
<text x="78.4" y="195.4">Cu<tspan font-size="8.8" dy="3.1">2</tspan><tspan dy="-3.1">O</tspan></text>
<text x="78.4" y="213.7">First order derivative</text>
</g>
<rect x="375" y="154" width="147.8" height="32.3" fill="#fff" stroke="#8a8a8a" stroke-width="0.75"/>
<path d="M388.8 163.8l3.4 0l-1.7 -3.3z" fill="#f01010"/>
<path d="M376.3 177.5H404.3" stroke="#000" stroke-width="1.45"/>
<g font-family='"Liberation Sans", Arial, Helvetica, sans-serif' font-size="12.4" fill="#0d0d0d" stroke="#0d0d0d" stroke-width="0.18">
<text x="408" y="166.6">Cu-O</text>
<text x="408" y="182.1">First order derivative</text>
</g>
<g font-family='"Liberation Sans", Arial, Helvetica, sans-serif' fill="#0d0d0d" stroke="#0d0d0d" stroke-width="0.18">
<text x="109.8" y="140.9" font-size="12.6">E<tspan font-size="8.6" dy="3.1">VB</tspan><tspan font-size="12.8" dy="-3.1">= 5.39eV</tspan></text>
<text x="221.8" y="224.8" font-size="12.7">E1= 16.64eV</text>
<text x="427.5" y="138.3" font-size="12.5">E<tspan font-size="8.5" dy="3.1">VB</tspan><tspan font-size="12.2" dy="-3.1">= 5.07eV</tspan></text>
<text x="558.2" y="222" font-size="12.5">E1= 16.71eV</text>
</g>
<path d="M130.6 127.5V79.4" stroke="#111" stroke-width="0.9"/>
<path d="M130.6 76.4l-1.9 5.6h3.8z" fill="#111"/>
<path d="M454.5 122.5V79.3" stroke="#111" stroke-width="0.9"/>
<path d="M454.5 76.3l-1.9 5.6h3.8z" fill="#111"/>
<g id="panel-c">
<path d="M28.2 539.8V323.5" stroke="#000" stroke-width="3.3"/>
<path d="M28.2 315.5l-5.2 10h10.4z" fill="#000"/>
<path d="M42.2 323.3H250" stroke="#843c0c" stroke-width="3.3"/>
<path d="M42.2 425.7H250" stroke="#00adee" stroke-width="3.3"/>
<path d="M43.2 498.9H250.9" stroke="#ff0000" stroke-width="3.6" stroke-dasharray="3.7 3.12"/>
<path d="M42.2 532.6H250" stroke="#00a651" stroke-width="3.3"/>
<path d="M52.4 337.2V525.8" stroke="#000" stroke-width="1.7"/>
<path d="M52.4 329.6l-4.5 8.6h9z" fill="#000"/>
<path d="M52.4 533.4l-4.5 -8.6h9z" fill="#000"/>
<path d="M93.7 332.8V486.8" stroke="#000" stroke-width="1.7"/>
<path d="M93.7 325.2l-4.5 8.6h9z" fill="#000"/>
<path d="M93.7 494.4l-4.5 -8.6h9z" fill="#000"/>
<path d="M209 333.2V417.2" stroke="#000" stroke-width="1.7"/>
<path d="M209 325.6l-4.5 8.6h9z" fill="#000"/>
<path d="M209 424.8l-4.5 -8.6h9z" fill="#000"/>
<path d="M161 437.4V522.7" stroke="#000" stroke-width="1.7"/>
<path d="M161 429.8l-4.5 8.6h9z" fill="#000"/>
<path d="M161 530.3l-4.5 -8.6h9z" fill="#000"/>
<text x="257.4" y="326.8" fill="#843c0c" stroke="#843c0c" stroke-width="0.22" font-family='"Liberation Serif", "Times New Roman", Times, serif' font-size="15.6">E<tspan font-size="9.8" dx="0.2" dy="8.8" letter-spacing="0.25">VAC</tspan></text>
<text x="256.6" y="428.9" fill="#00adee" stroke="#00adee" stroke-width="0.22" font-family='"Liberation Serif", "Times New Roman", Times, serif' font-size="15.6">E<tspan font-size="10.2" dx="1.2" dy="8" letter-spacing="0">CB</tspan><tspan font-size="15.6" dx="1.7" dy="-8">(2.86eV)</tspan></text>
<text x="258.8" y="500.9" fill="#ff0000" stroke="#ff0000" stroke-width="0.22" font-family='"Liberation Serif", "Times New Roman", Times, serif' font-size="15.6">E<tspan font-size="10.2" dx="1.8" dy="8" letter-spacing="0">F</tspan><tspan font-size="15.2" dx="2.6" dy="-8">(4.58eV)</tspan></text>
<text x="259.2" y="535.3" fill="#00a651" stroke="#00a651" stroke-width="0.22" font-family='"Liberation Serif", "Times New Roman", Times, serif' font-size="15.6">E<tspan font-size="10.2" dx="2.2" dy="8" letter-spacing="0">VB</tspan><tspan font-size="15" dx="2.6" dy="-8">(5.39eV)</tspan></text>
<text x="172.6" y="464.8" fill="#111" stroke="#111" stroke-width="0.22" font-family='"Liberation Serif", "Times New Roman", Times, serif' font-size="15.6">E<tspan font-size="9.6" dx="-0.4" dy="10" letter-spacing="0">g</tspan><tspan font-size="15.2" dx="3.1" dy="-10">(2.53eV)</tspan></text>
<text x="63.6" y="381" fill="#111" stroke="#111" stroke-width="0.22" font-family='"Liberation Serif", "Times New Roman", Times, serif' font-size="15.6">E<tspan font-size="9.8" dx="-0.4" dy="8.8" letter-spacing="0">ion</tspan></text>
<text x="118.5" y="380" font-family='"Liberation Sans", Arial, Helvetica, sans-serif' font-size="15.1" fill="#111" stroke="#111" stroke-width="0.2">= 4.58eV</text>
</g>
<g id="panel-d">
<path d="M372.5 543.4V323" stroke="#000" stroke-width="3.3"/>
<path d="M372.5 315l-5.2 10h10.4z" fill="#000"/>
<path d="M386.8 322.8H594" stroke="#843c0c" stroke-width="3.3"/>
<path d="M386.8 427.3H593.6" stroke="#00adee" stroke-width="3.3"/>
<path d="M387.3 501.8H593.8" stroke="#ff0000" stroke-width="3.9" stroke-dasharray="3.7 3.12"/>
<path d="M386.8 535.9H593.6" stroke="#00a651" stroke-width="3.5"/>
<path d="M396.5 336.8V528.9" stroke="#000" stroke-width="1.7"/>
<path d="M396.5 329.2l-4.5 8.6h9z" fill="#000"/>
<path d="M396.5 536.5l-4.5 -8.6h9z" fill="#000"/>
<path d="M437.3 332.1V500.4" stroke="#000" stroke-width="1.7"/>
<path d="M437.3 324.5l-4.5 8.6h9z" fill="#000"/>
<path d="M437.3 508l-4.5 -8.6h9z" fill="#000"/>
<path d="M552.3 332.6V418.9" stroke="#000" stroke-width="1.7"/>
<path d="M552.3 325l-4.5 8.6h9z" fill="#000"/>
<path d="M552.3 426.5l-4.5 -8.6h9z" fill="#000"/>
<path d="M505 439.1V526.4" stroke="#000" stroke-width="1.7"/>
<path d="M505 431.5l-4.5 8.6h9z" fill="#000"/>
<path d="M505 534l-4.5 -8.6h9z" fill="#000"/>
<text x="605" y="325.6" fill="#843c0c" stroke="#843c0c" stroke-width="0.22" font-family='"Liberation Serif", "Times New Roman", Times, serif' font-size="16.2">E<tspan font-size="9.8" dx="-0.2" dy="8.2" letter-spacing="0.5">VAC</tspan></text>
<text x="599.9" y="429.8" fill="#00adee" stroke="#00adee" stroke-width="0.22" font-family='"Liberation Serif", "Times New Roman", Times, serif' font-size="15.6">E<tspan font-size="10.2" dx="1.6" dy="8" letter-spacing="0">CB</tspan><tspan font-size="15.2" dx="2.4" dy="-8">(2.84eV)</tspan></text>
<text x="602.4" y="503.6" fill="#ff0000" stroke="#ff0000" stroke-width="0.22" font-family='"Liberation Serif", "Times New Roman", Times, serif' font-size="15.6">E<tspan font-size="10.2" dx="1.8" dy="8" letter-spacing="0">F</tspan><tspan font-size="15.2" dx="2.6" dy="-8">(4.51eV)</tspan></text>
<text x="602.7" y="538.3" fill="#00a651" stroke="#00a651" stroke-width="0.22" font-family='"Liberation Serif", "Times New Roman", Times, serif' font-size="15.6">E<tspan font-size="10.2" dx="2.2" dy="8" letter-spacing="0">VB</tspan><tspan font-size="15.2" dx="2.6" dy="-8">(5.07eV)</tspan></text>
<text x="516.2" y="466.5" fill="#111" stroke="#111" stroke-width="0.22" font-family='"Liberation Serif", "Times New Roman", Times, serif' font-size="15.6">E<tspan font-size="9.6" dx="-0.4" dy="10" letter-spacing="0">g</tspan><tspan font-size="15.2" dx="3.1" dy="-10">(2.23eV)</tspan></text>
<text x="407.8" y="381.3" fill="#111" stroke="#111" stroke-width="0.22" font-family='"Liberation Serif", "Times New Roman", Times, serif' font-size="15.6">E<tspan font-size="9.8" dx="-0.4" dy="8.8" letter-spacing="0">ion</tspan></text>
<text x="462.5" y="380" font-family='"Liberation Serif", "Times New Roman", Times, serif' font-size="15" fill="#111" stroke="#111" stroke-width="0.2">= 4.51eV</text>
</g>
</svg></body></html>
